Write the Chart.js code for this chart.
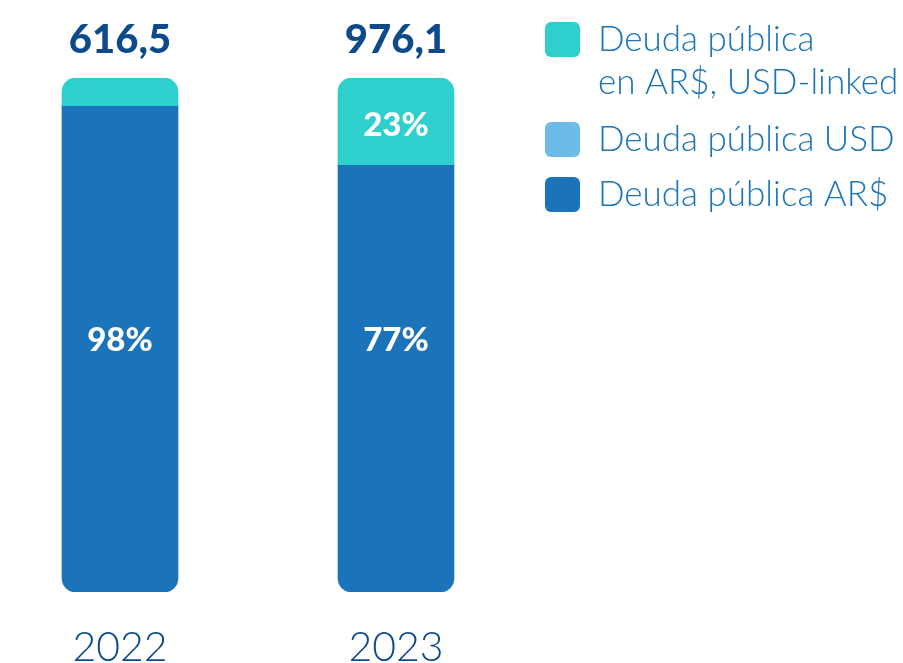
<!DOCTYPE html>
<html>
<head>
<meta charset="utf-8">
<script src="https://cdn.jsdelivr.net/npm/chart.js@4/dist/chart.umd.min.js"></script>
<style>
  html, body { margin: 0; padding: 0; background: #fff; }
  #wrap { width: 903px; height: 663px; position: relative; }
</style>
</head>
<body>
<div id="wrap"><canvas id="chart"></canvas></div>
<script>
// values
const years = ['2022', '2023'];
const totals = ['616,5', '976,1'];
const arsShare = [94.5, 83];      // Deuda pública AR$ (bar height as drawn)
const usdShare = [0, 0];          // Deuda pública USD
const linkedShare = [5.5, 17];    // Deuda pública en AR$, USD-linked
const arsLabels = ['98%', '77%'];
const linkedLabels = ['', '23%'];
const legendNames = [['Deuda pública', 'en AR$, USD-linked'], ['Deuda pública USD'], ['Deuda pública AR$']];

const teal = '#2fcfce';
const lightBlue = '#6fbbe7';
const darkBlue = '#1b74b9';
const navy = '#0d4a8b';

const xs = years.map((_, i) => i);

const labelPlugin = {
  id: 'labels',
  afterDatasetsDraw(chart) {
    const ctx = chart.ctx;
    const y = chart.scales.y;
    const arsMeta = chart.getDatasetMeta(0);
    const linkedMeta = chart.getDatasetMeta(2);
    ctx.save();
    ctx.textAlign = 'center';
    ctx.textBaseline = 'middle';
    years.forEach((yr, i) => {
      const x = arsMeta.data[i].x;
      // totals on top
      ctx.fillStyle = navy;
      ctx.font = '900 40px Lato';
      ctx.fillText(totals[i], x, 40);
      // percentages inside
      ctx.fillStyle = '#fff';
      ctx.font = '900 33px Lato';
      ctx.fillText(arsLabels[i], x, y.getPixelForValue(49));
      if (linkedLabels[i]) {
        const bar = linkedMeta.data[i];
        ctx.fillText(linkedLabels[i], x, (bar.y + bar.base) / 2 + 4);
      }
    });
    ctx.restore();
  }
};

const legendPlugin = {
  id: 'sideLegend',
  afterDraw(chart) {
    const ctx = chart.ctx;
    const colors = [teal, lightBlue, darkBlue];
    const rows = [22, 122, 177];
    ctx.save();
    ctx.font = '300 35px Lato';
    ctx.textAlign = 'left';
    ctx.textBaseline = 'middle';
    legendNames.forEach((lines, i) => {
      ctx.fillStyle = colors[i];
      ctx.beginPath();
      ctx.roundRect(545, rows[i], 35, 35, 6);
      ctx.fill();
      ctx.fillStyle = darkBlue;
      lines.forEach((t, j) => {
        ctx.fillText(t, 598, rows[i] + 18 + j * 43);
      });
    });
    ctx.restore();
  }
};

new Chart(document.getElementById('chart'), {
  type: 'bar',
  data: {
    datasets: [
      {
        label: 'Deuda pública AR$',
        data: xs.map((x, i) => ({ x: x, y: arsShare[i] })),
        backgroundColor: darkBlue,
        borderRadius: { topLeft: 0, topRight: 0, bottomLeft: 14, bottomRight: 14 },
        borderSkipped: false
      },
      {
        label: 'Deuda pública USD',
        data: xs.map((x, i) => ({ x: x, y: usdShare[i] })),
        backgroundColor: lightBlue
      },
      {
        label: 'Deuda pública en AR$, USD-linked',
        data: xs.map((x, i) => ({ x: x, y: linkedShare[i] })),
        backgroundColor: teal,
        borderRadius: { topLeft: 14, topRight: 14, bottomLeft: 0, bottomRight: 0 },
        borderSkipped: false
      }
    ]
  },
  options: {
    responsive: true,
    maintainAspectRatio: false,
    animation: false,
    barThickness: 116,
    layout: { padding: { top: 78, left: 0, right: 0, bottom: 0 } },
    plugins: {
      legend: { display: false },
      tooltip: { enabled: false }
    },
    scales: {
      x: {
        type: 'linear',
        stacked: true,
        offset: false,
        min: -120 / 276,
        max: 783 / 276,
        grid: { display: false, drawTicks: false },
        border: { display: false },
        afterBuildTicks: (axis) => { axis.ticks = xs.map(v => ({ value: v })); },
        afterFit: (axis) => { axis.height = 71; },
        ticks: {
          padding: 39,
          maxRotation: 0,
          minRotation: 0,
          autoSkip: false,
          color: navy,
          font: { family: 'Lato', size: 41, weight: '300', lineHeight: 0.8 },
          callback: (v) => years[v]
        }
      },
      y: {
        stacked: true,
        min: 0,
        max: 100,
        display: false
      }
    }
  },
  plugins: [labelPlugin, legendPlugin]
});
</script>
</body>
</html>
